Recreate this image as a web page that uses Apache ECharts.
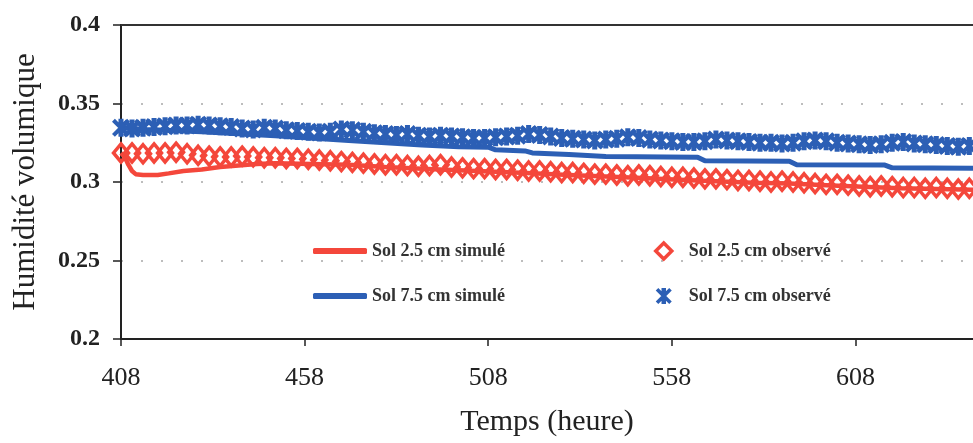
<!DOCTYPE html>
<html>
<head>
<meta charset="utf-8">
<script src="https://cdn.jsdelivr.net/npm/echarts@6/dist/echarts.min.js"></script>
<style>
html,body{margin:0;padding:0;background:#fff;}
#chart{width:973px;height:443px;}
</style>
</head>
<body>
<div id="chart"></div>
<script>
// ---- data ----
const xTicks = [408, 458, 508, 558, 608];
const yTicks = [0.2, 0.25, 0.3, 0.35, 0.4];

const simHours25 = [408,409,410,411,412,414,418,421,425,430,435,440,445,450,460,470,480,490,500,510,520,530,540,550,560,570,580,590,600,610,620,630,640];
const sim25 = [0.3185,0.316,0.311,0.307,0.305,0.3045,0.3045,0.3055,0.307,0.308,0.3095,0.3105,0.3115,0.312,0.3115,0.311,0.3095,0.3085,0.3075,0.3065,0.3055,0.3045,0.3035,0.3025,0.3015,0.3005,0.2995,0.299,0.298,0.297,0.296,0.2955,0.295];

const simHours75 = [408,415,430,450,470,490,500,508,510,518,520,530,540,565,567,590,592,616,618,640];
const sim75 = [0.3345,0.3335,0.332,0.3295,0.3265,0.3235,0.3225,0.3222,0.3205,0.3198,0.3185,0.3175,0.3162,0.3158,0.3135,0.3132,0.311,0.3108,0.309,0.3088];

const obsHours = [408,411,414,417,420,423,426,429,432,435,438,441,444,447,450,453,456,459,462,465,468,471,474,477,480,483,486,489,492,495,498,501,504,507,510,513,516,519,522,525,528,531,534,537,540,543,546,549,552,555,558,561,564,567,570,573,576,579,582,585,588,591,594,597,600,603,606,609,612,615,618,621,624,627,630,633,636,639];
const obs25 = [0.3185,0.3185,0.318,0.3185,0.3185,0.319,0.318,0.317,0.3165,0.316,
0.316,0.3165,0.316,0.3155,0.3155,0.315,0.315,0.3145,0.314,0.3135,
0.313,0.3125,0.312,0.3115,0.311,0.311,0.3105,0.310,0.3105,0.311,
0.3095,0.309,0.3085,0.3085,0.308,0.308,0.3075,0.307,0.307,0.3065,
0.306,0.306,0.3055,0.305,0.305,0.3045,0.304,0.3045,0.304,0.3035,
0.303,0.303,0.3025,0.302,0.302,0.3015,0.301,0.301,0.3005,0.300,
0.3005,0.300,0.2995,0.299,0.2985,0.2985,0.298,0.2975,0.297,0.2975,
0.297,0.2965,0.2965,0.296,0.2965,0.296,0.2955,0.296];
const obs75 = [0.3345,0.334,0.3345,0.335,0.3355,0.336,0.336,0.3365,0.336,0.3355,
0.335,0.334,0.3335,0.3345,0.334,0.333,0.3325,0.332,0.3315,0.332,
0.3335,0.333,0.332,0.331,0.3305,0.330,0.3305,0.3295,0.329,0.3295,
0.329,0.3285,0.328,0.328,0.3285,0.329,0.3295,0.3305,0.330,0.329,
0.328,0.3275,0.327,0.3265,0.327,0.3275,0.3285,0.328,0.327,0.3265,
0.326,0.3255,0.3255,0.326,0.327,0.3265,0.326,0.3255,0.325,0.325,
0.3245,0.325,0.326,0.3265,0.326,0.325,0.3245,0.324,0.3235,0.324,
0.325,0.3255,0.3245,0.324,0.3235,0.323,0.3225,0.323];

const names = ['Sol 2.5 cm simulé', 'Sol 7.5 cm simulé', 'Sol 2.5 cm observé', 'Sol 7.5 cm observé'];

// ---- styling ----
const RED = '#f4473b';
const BLUE = '#2c5fb5';
const SERIF = '"Liberation Serif", "DejaVu Serif", serif';
const STAR = 'path://M3.6,0L6.4,0L6.4,10L3.6,10Z M0,1.6L1.6,0L10,8.4L8.4,10Z M8.4,0L10,1.6L1.6,10L0,8.4Z';

const zip = (xs, ys) => xs.map((x, i) => [x, ys[i]]);

const chart = echarts.init(document.getElementById('chart'), null, {renderer: 'canvas'});

const legendText = {fontFamily: SERIF, fontSize: 18, fontWeight: 'bold', color: '#333', lineHeight: 20};

chart.setOption({
  animation: false,
  backgroundColor: '#fff',
  grid: {left: 121, right: 0, top: 25, bottom: 104, containLabel: false},
  legend: [
    {
      data: [names[0], names[1]],
      orient: 'vertical', left: 308, top: 236, itemGap: 25,
      itemWidth: 54, itemHeight: 6, icon: 'roundRect',
      textStyle: legendText
    },
    {
      data: [
        {name: names[2], icon: 'diamond', itemStyle: {color: 'rgba(255,255,255,0)', borderColor: RED, borderWidth: 3.5}},
        {name: names[3], icon: STAR, itemStyle: {color: BLUE, borderWidth: 0}}
      ],
      orient: 'vertical', left: 649, top: 236, itemGap: 25,
      itemWidth: 16, itemHeight: 16,
      textStyle: Object.assign({}, legendText, {padding: [0, 0, 0, 12]})
    }
  ],
  xAxis: [
    {
      type: 'value', min: 408, max: 640, position: 'bottom',
      axisLine: {show: true, onZero: false, lineStyle: {color: '#222', width: 2}},
      axisTick: {show: true, inside: false, length: 7, customValues: xTicks, lineStyle: {color: '#222', width: 1.5}},
      axisLabel: {customValues: xTicks, margin: 26, fontFamily: SERIF, fontSize: 26, color: '#222'},
      splitLine: {show: false},
      name: 'Temps (heure)', nameLocation: 'middle', nameGap: 68,
      nameTextStyle: {fontFamily: SERIF, fontSize: 30, color: '#222'}
    },
    {
      type: 'value', min: 408, max: 640, position: 'top',
      axisLine: {show: true, onZero: false, lineStyle: {color: '#333', width: 2}},
      axisTick: {show: false}, axisLabel: {show: false}, splitLine: {show: false}
    }
  ],
  yAxis: {
    type: 'value', min: 0.2, max: 0.4, interval: 0.05,
    axisLine: {show: true, onZero: false, lineStyle: {color: '#222', width: 2}},
    axisTick: {show: true, inside: false, length: 8, lineStyle: {color: '#222', width: 1.5}},
    axisLabel: {
      margin: 21, fontFamily: SERIF, fontSize: 24, fontWeight: 'bold', color: '#222',
      formatter: v => String(+v.toFixed(2))
    },
    splitLine: {show: true, lineStyle: {color: '#a8a8a8', width: 1.5, type: [2, 18]}},
    name: 'Humidité volumique', nameLocation: 'middle', nameGap: 80,
    nameTextStyle: {fontFamily: SERIF, fontSize: 31, color: '#222'}
  },
  series: [
    {
      name: names[0], type: 'line', data: zip(simHours25, sim25),
      symbol: 'none', smooth: false, lineStyle: {color: RED, width: 4.5}, itemStyle: {color: RED}, z: 2
    },
    {
      name: names[1], type: 'line', data: zip(simHours75, sim75),
      symbol: 'none', smooth: false, lineStyle: {color: BLUE, width: 5}, itemStyle: {color: BLUE}, z: 2
    },
    {
      name: names[2], type: 'scatter', data: zip(obsHours, obs25),
      symbol: 'diamond', symbolSize: [15, 18],
      itemStyle: {color: 'rgba(255,255,255,0)', borderColor: RED, borderWidth: 3.5, opacity: 1}, z: 3
    },
    {
      name: names[3], type: 'scatter', data: zip(obsHours, obs75),
      symbol: STAR, symbolSize: 18,
      itemStyle: {color: BLUE, opacity: 1}, z: 3
    }
  ]
});
</script>
</body>
</html>
